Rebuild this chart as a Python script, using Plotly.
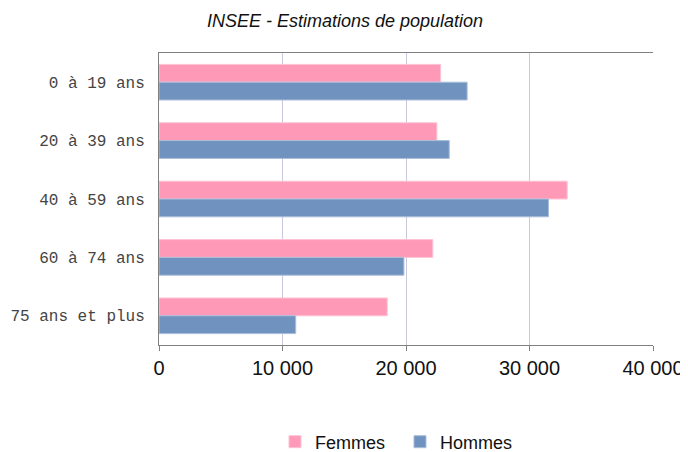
import plotly.graph_objects as go

categories = ["0 à 19 ans", "20 à 39 ans", "40 à 59 ans", "60 à 74 ans", "75 ans et plus"]
femmes = [22800, 22500, 33050, 22170, 18480]
hommes = [24950, 23500, 31540, 19830, 11070]
x_ticks = [0, 10000, 20000, 30000, 40000]

# page body has an 8px default margin, so the figure is 680x444
W, H = 680, 444

fig = go.Figure()
fig.add_trace(go.Bar(y=categories, x=femmes, name="Femmes", orientation="h",
                     marker=dict(color="#FF99B8", line=dict(color="#FFC2D4", width=1))))
fig.add_trace(go.Bar(y=categories, x=hommes, name="Hommes", orientation="h",
                     marker=dict(color="#7092BE", line=dict(color="#A9BEDA", width=1))))

fig.update_layout(
    width=W, height=H,
    margin=dict(l=151, r=35, t=45, b=107, autoexpand=False),
    paper_bgcolor="white", plot_bgcolor="white",
    separators=", ",
    barmode="group", bargap=0.39, bargroupgap=0,
    title=dict(text="<i>INSEE - Estimations de population</i>", x=337 / W, xanchor="center",
               xref="container",
               y=1 - 13 / H, yanchor="middle",
               font=dict(family="Liberation Sans, Arial", size=18, color="#111")),
    legend=dict(orientation="h", x=0.2348, xanchor="left", xref="paper",
                y=1 - 434 / H, yanchor="middle", yref="container",
                entrywidth=80,
                font=dict(family="Liberation Sans, Arial", size=18, color="#111"),
                traceorder="normal"),
    showlegend=True,
)
fig.update_xaxes(range=[0, 40000], tickvals=x_ticks, tickformat=",d", automargin=False,
                 showgrid=True, gridcolor="#C8C8DC", gridwidth=1,
                 showline=True, linecolor="#808080", linewidth=1, mirror=True,
                 ticks="outside", ticklen=5, tickcolor="#808080",
                 zeroline=False,
                 tickfont=dict(family="Liberation Sans, Arial", size=20, color="#111"))
fig.update_yaxes(autorange="reversed", automargin=False,
                 showline=True, linecolor="#808080", linewidth=1,
                 showgrid=False, ticks="", ticklabelstandoff=10,
                 tickfont=dict(family="Liberation Mono, Courier New, monospace", size=16, color="#444"))

fig.write_html("out.html")
